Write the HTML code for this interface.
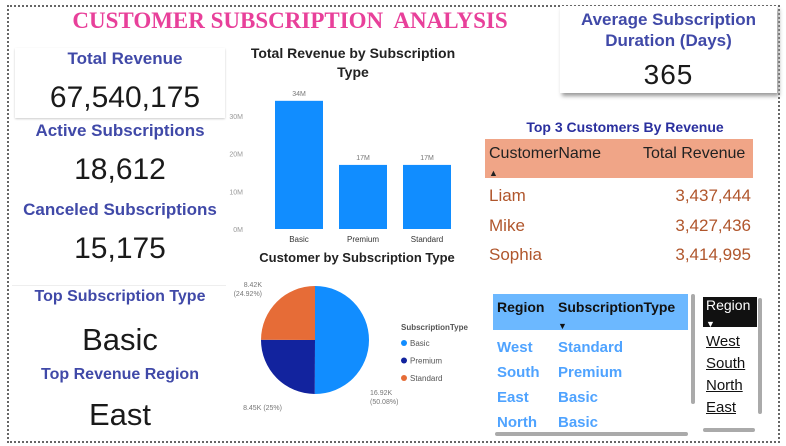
<!DOCTYPE html>
<html><head><meta charset="utf-8"><style>
body{margin:0;width:786px;height:446px;background:#fff;position:relative;overflow:hidden;font-family:"Liberation Sans",sans-serif}
.a{position:absolute}
.t{color:#4049a8;font-weight:bold;text-align:center}
.n{color:#1a1a1a;text-align:center}
</style></head><body>
<div class="a" style="left:7px;top:5px;width:769px;height:434px;border:2px dotted #666"></div>
<div class="a" style="left:40px;top:8px;width:500px;text-align:center;font:bold 23px 'Liberation Serif',serif;color:#e8409a">CUSTOMER SUBSCRIPTION&nbsp; ANALYSIS</div>

<div class="a" style="left:15px;top:48px;width:210px;height:70px;box-shadow:0 1px 2px #ccc"></div>
<div class="a t" style="left:15px;top:49px;width:220px;font-size:17px">Total Revenue</div>
<div class="a n" style="left:15px;top:81px;width:220px;font-size:30px">67,540,175</div>
<div class="a t" style="left:5px;top:121px;width:230px;font-size:17px">Active Subscriptions</div>
<div class="a n" style="left:5px;top:153px;width:230px;font-size:30px">18,612</div>
<div class="a t" style="left:5px;top:200px;width:230px;font-size:17px">Canceled Subscriptions</div>
<div class="a n" style="left:5px;top:232px;width:230px;font-size:30px">15,175</div>
<div class="a" style="left:12px;top:285px;width:214px;height:1px;background:#eee"></div>
<div class="a t" style="left:5px;top:288px;width:230px;font-size:16px">Top Subscription Type</div>
<div class="a n" style="left:5px;top:322px;width:230px;font-size:31px">Basic</div>
<div class="a t" style="left:5px;top:366px;width:230px;font-size:16px">Top Revenue Region</div>
<div class="a n" style="left:5px;top:397px;width:230px;font-size:31px">East</div>

<div class="a" style="left:560px;top:6px;width:217px;height:87px;background:#fff;box-shadow:2px 3px 4px #999"></div>
<div class="a t" style="left:560px;top:9px;width:217px;font-size:17px;line-height:21px">Average Subscription<br>Duration (Days)</div>
<div class="a n" style="left:560px;top:59px;width:217px;font-size:28px;letter-spacing:1px">365</div>

<div class="a" style="left:485px;top:119px;width:280px;text-align:center;font-weight:bold;font-size:14px;color:#2a2f9e">Top 3 Customers By Revenue</div>
<div class="a" style="left:485px;top:139px;width:268px;height:39px;background:#f0a587"></div>
<div class="a" style="left:489px;top:145px;font-size:16px;color:#222;line-height:18px">CustomerName<br><span style="font-size:9px">▲</span></div>
<div class="a" style="left:643px;top:145px;font-size:16px;color:#222">Total Revenue</div>
<div class="a" style="left:489px;top:181px;width:262px;font-size:17px;color:#b0562c;line-height:29.5px">
<div style="display:flex;justify-content:space-between"><span>Liam</span><span>3,437,444</span></div>
<div style="display:flex;justify-content:space-between"><span>Mike</span><span>3,427,436</span></div>
<div style="display:flex;justify-content:space-between"><span>Sophia</span><span>3,414,995</span></div>
</div>

<svg class="a" style="left:220px;top:40px" width="260" height="400" id="ch"></svg>

<div class="a" style="left:493px;top:294px;width:195px;height:36px;background:#6cb8ff"></div>
<div class="a" style="left:497px;top:299px;font-weight:bold;font-size:14px;color:#111">Region</div>
<div class="a" style="left:558px;top:299px;font-weight:bold;font-size:14px;color:#111;line-height:17px">SubscriptionType<br><span style="font-size:9px">▼</span></div>
<div class="a" style="left:497px;top:335px;font-weight:bold;font-size:15px;color:#4fa3ff;line-height:25px">
<div><span style="display:inline-block;width:61px">West</span>Standard</div>
<div><span style="display:inline-block;width:61px">South</span>Premium</div>
<div><span style="display:inline-block;width:61px">East</span>Basic</div>
<div><span style="display:inline-block;width:61px">North</span>Basic</div>
</div>
<div class="a" style="left:691px;top:294px;width:4px;height:110px;background:#aaa;border-radius:2px"></div>
<div class="a" style="left:495px;top:432px;width:193px;height:4px;background:#aaa;border-radius:2px"></div>

<div class="a" style="left:703px;top:297px;width:54px;height:30px;background:#111;color:#fff;font-size:14px;padding-left:3px;box-sizing:border-box;line-height:17px">Region<br><span style="font-size:9px">▼</span></div>
<div class="a" style="left:706px;top:331px;font-size:15px;color:#111;line-height:22px;text-decoration:underline">
<div>West</div><div>South</div><div>North</div><div>East</div></div>
<div class="a" style="left:758px;top:298px;width:4px;height:116px;background:#aaa;border-radius:2px"></div>
<div class="a" style="left:703px;top:428px;width:52px;height:4px;background:#aaa;border-radius:2px"></div>

<script>
const barCats=["Basic","Premium","Standard"];
const barVals=[34,17,17];
const barLabels=["34M","17M","17M"];
const yTicks=[0,10,20,30];
const pieCats=["Basic","Premium","Standard"];
const pieVals=[16.92,8.45,8.42];
const pieValLabels=["16.92K","8.45K","8.42K"];
const piePctLabels=["50.08%","25%","24.92%"];
const pieColors=["#118dff","#12239e","#e66c37"];
const NS="http://www.w3.org/2000/svg";
const svg=document.getElementById('ch');
function mk(tag,attrs,txt){const e=document.createElementNS(NS,tag);for(const k in attrs)e.setAttribute(k,attrs[k]);if(txt!==undefined)e.textContent=txt;svg.appendChild(e);return e;}
const y0=189,pxPer=3.77;
const yS=v=>y0-v*pxPer;
let e=mk('text',{x:133,y:18,'text-anchor':'middle','font-size':14,'font-weight':'bold',fill:'#222'},'Total Revenue by Subscription');

e=mk('text',{x:133,y:37,'text-anchor':'middle','font-size':14,'font-weight':'bold',fill:'#222'},'Type');

yTicks.forEach(t=>{const l=mk('text',{x:23,y:yS(t)+3,'text-anchor':'end','font-size':7,fill:'#999'},t+'M');
});
barCats.forEach((c,i)=>{const x=55+i*64;
const r=mk('rect',{x:x,y:yS(barVals[i]),width:48,height:barVals[i]*pxPer,fill:'#118dff'});

const lb=mk('text',{x:x+24,y:yS(barVals[i])-5,'text-anchor':'middle','font-size':7,fill:'#777'},barLabels[i]);

const cl=mk('text',{x:x+24,y:y0+13,'text-anchor':'middle','font-size':8,fill:'#333'},c);
});
e=mk('text',{x:137,y:222,'text-anchor':'middle','font-size':13,'font-weight':'bold',fill:'#222'},'Customer by Subscription Type');

const cx=95,cy=300,R=54,tot=pieVals.reduce((a,b)=>a+b,0);let ang=-Math.PI/2;
const lblPos=[[150,355,'start'],[62,370,'end'],[42,247,'end']];
pieVals.forEach((v,i)=>{const a2=ang+v/tot*2*Math.PI;
const p=`M${cx},${cy}L${cx+R*Math.cos(ang)},${cy+R*Math.sin(ang)}A${R},${R} 0 ${a2-ang>Math.PI?1:0} 1 ${cx+R*Math.cos(a2)},${cy+R*Math.sin(a2)}Z`;
const s=mk('path',{d:p,fill:pieColors[i]});
const [lx,ly,an]=lblPos[i];
const t=mk('text',{x:lx,y:ly,'text-anchor':an,'font-size':7,fill:'#777'});

if(i==1){t.textContent=pieValLabels[i]+' ('+piePctLabels[i]+')';}
else{const a=document.createElementNS(NS,'tspan');a.setAttribute('x',lx);a.textContent=pieValLabels[i];t.appendChild(a);
const b=document.createElementNS(NS,'tspan');b.setAttribute('x',lx);b.setAttribute('dy',9);b.textContent='('+piePctLabels[i]+')';t.appendChild(b);}
ang=a2;});
e=mk('text',{x:181,y:290,'font-size':8,'font-weight':'bold',fill:'#555'},'SubscriptionType');

pieCats.forEach((c,i)=>{const y=303+i*17.5;
const d=mk('circle',{cx:184,cy:y,r:3,fill:pieColors[i]});
const t=mk('text',{x:190,y:y+3,'font-size':8,fill:'#555'},c);});
</script>
</body></html>
